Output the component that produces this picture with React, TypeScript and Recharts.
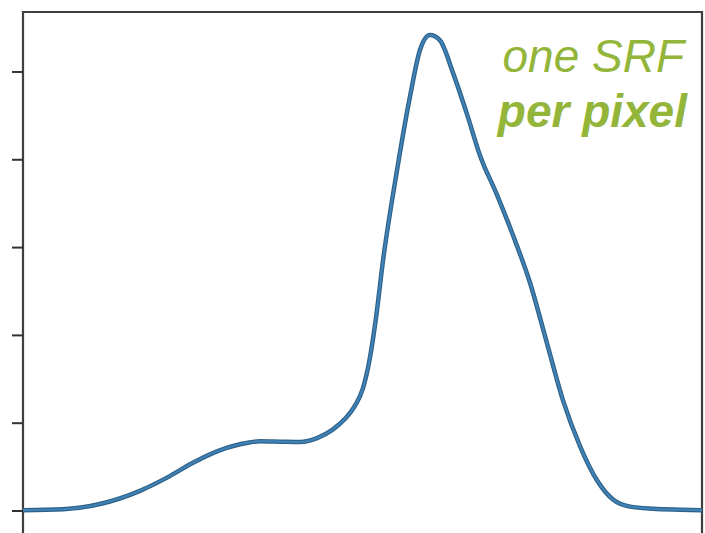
import { LineChart, Line, XAxis, YAxis, ReferenceArea } from "recharts";

// sample positions along the (unlabelled) x axis
const xs = [0, 40, 77, 117, 144, 170, 194, 217, 237, 257, 277, 294, 310, 322, 332, 340, 347, 353, 360, 374, 387, 397, 407, 417, 430, 444, 457, 474, 490, 507, 524, 540, 557, 574, 590, 607, 630, 657, 679];
// spectral response
const srf = [0.01, 0.02, 0.08, 0.23, 0.38, 0.55, 0.68, 0.76, 0.795, 0.79, 0.785, 0.83, 0.93, 1.05, 1.2, 1.4, 1.75, 2.2, 2.85, 3.88, 4.72, 5.25, 5.42, 5.36, 4.99, 4.52, 4.05, 3.6, 3.14, 2.6, 1.91, 1.26, 0.74, 0.35, 0.13, 0.05, 0.025, 0.015, 0.01];
const yTicks = [0, 1, 2, 3, 4, 5];
const X_DOMAIN: [number, number] = [0, 679];
const Y_DOMAIN: [number, number] = [-0.558, 5.683];

const data = xs.map((x, i) => ({ x, v: srf[i] }));

const GREEN = "#93b53a";

const NoLabel = () => <g />;

export default function App() {
  return (
    <div style={{ position: "absolute", left: 0, top: 0, width: 705, height: 533, overflow: "hidden", background: "#fff" }}>
      <LineChart width={705} height={560} data={data} margin={{ top: 12, right: 3, bottom: 0, left: 0 }}>
        <XAxis dataKey="x" type="number" domain={X_DOMAIN} hide allowDataOverflow />
        <YAxis
          type="number"
          domain={Y_DOMAIN}
          ticks={yTicks}
          allowDataOverflow
          width={23}
          axisLine={false}
          tick={<NoLabel />}
          tickSize={11}
          tickLine={{ stroke: "#333", strokeWidth: 2 }}
        />
        <ReferenceArea
          x1={X_DOMAIN[0]}
          x2={X_DOMAIN[1]}
          y1={Y_DOMAIN[0]}
          y2={Y_DOMAIN[1]}
          fill="none"
          stroke="#3f3f3f"
          strokeWidth={2.2}
          ifOverflow="visible"
        />
        {/* darker halo under the blue stroke */}
        <Line type="monotone" dataKey="v" stroke="#2f6186" strokeWidth={4.5} dot={false} isAnimationActive={false} />
        <Line type="monotone" dataKey="v" stroke="#3f82b8" strokeWidth={2.2} dot={false} isAnimationActive={false} />
      </LineChart>
      <div
        style={{
          position: "absolute",
          top: 28.6,
          right: 21,
          fontFamily: "'Liberation Sans', Arial, sans-serif",
          fontSize: 46,
          lineHeight: "55px",
          textAlign: "right",
          fontStyle: "italic",
          color: GREEN,
        }}
      >
        <div>one SRF</div>
        <div style={{ fontWeight: "bold", marginRight: -3 }}>per pixel</div>
      </div>
    </div>
  );
}
